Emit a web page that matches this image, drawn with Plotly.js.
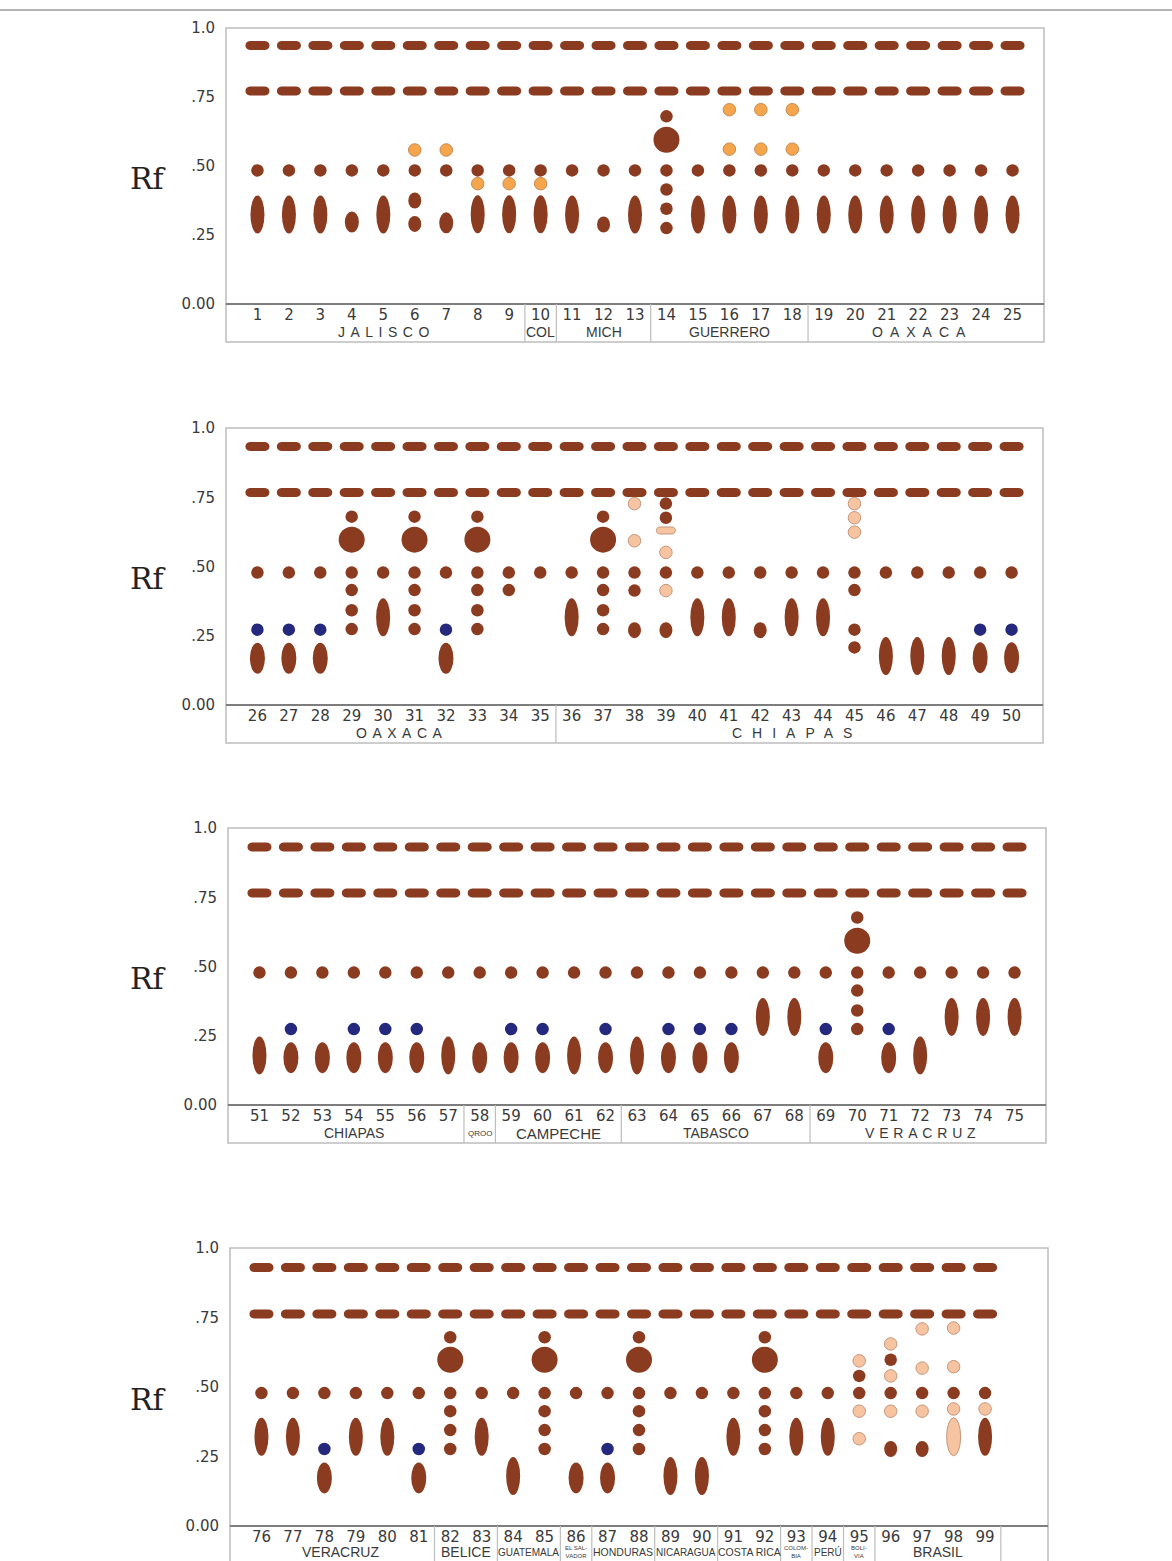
<!DOCTYPE html>
<html><head><meta charset="utf-8">
<script src="https://cdn.plot.ly/plotly-3.0.1.min.js"></script>
<style>html,body{margin:0;padding:0;background:#fff}</style>
</head><body><div id="chart" style="width:1172px;height:1561px"></div>
<script>
// ---------------- DATA ----------------
// lanes shown in each panel
const panel1Lanes = [1,2,3,4,5,6,7,8,9,10,11,12,13,14,15,16,17,18,19,20,21,22,23,24,25];
const panel2Lanes = [26,27,28,29,30,31,32,33,34,35,36,37,38,39,40,41,42,43,44,45,46,47,48,49,50];
const panel3Lanes = [51,52,53,54,55,56,57,58,59,60,61,62,63,64,65,66,67,68,69,70,71,72,73,74,75];
const panel4Lanes = [76,77,78,79,80,81,82,83,84,85,86,87,88,89,90,91,92,93,94,95,96,97,98,99];

// Rf of the two dashed bands near the top of each panel
const panel1DashRf = [0.937, 0.772];
const panel2DashRf = [0.933, 0.767];
const panel3DashRf = [0.931, 0.765];
const panel4DashRf = [0.930, 0.763];

// spots: [lane, Rf, kind, tone]
const panel1Spots = [
 [1,.484,'dot','brown'],[1,.324,'tall','brown'],
 [2,.484,'dot','brown'],[2,.324,'tall','brown'],
 [3,.484,'dot','brown'],[3,.324,'tall','brown'],
 [4,.484,'dot','brown'],[4,.297,'short','brown'],
 [5,.484,'dot','brown'],[5,.324,'tall','brown'],
 [6,.558,'dot','orange'],[6,.484,'dot','brown'],[6,.375,'oval','brown'],[6,.290,'oval','brown'],
 [7,.558,'dot','orange'],[7,.484,'dot','brown'],[7,.294,'short','brown'],
 [8,.484,'dot','brown'],[8,.436,'dot','orange'],[8,.325,'tall','brown'],
 [9,.484,'dot','brown'],[9,.436,'dot','orange'],[9,.325,'tall','brown'],
 [10,.484,'dot','brown'],[10,.436,'dot','orange'],[10,.325,'tall','brown'],
 [11,.484,'dot','brown'],[11,.324,'tall','brown'],
 [12,.484,'dot','brown'],[12,.288,'oval','brown'],
 [13,.484,'dot','brown'],[13,.324,'tall','brown'],
 [14,.680,'dot','brown'],[14,.595,'big','brown'],[14,.484,'dot','brown'],[14,.415,'dot','brown'],[14,.345,'dot','brown'],[14,.275,'dot','brown'],
 [15,.484,'dot','brown'],[15,.324,'tall','brown'],
 [16,.704,'dot','orange'],[16,.561,'dot','orange'],[16,.484,'dot','brown'],[16,.324,'tall','brown'],
 [17,.704,'dot','orange'],[17,.561,'dot','orange'],[17,.484,'dot','brown'],[17,.324,'tall','brown'],
 [18,.704,'dot','orange'],[18,.561,'dot','orange'],[18,.484,'dot','brown'],[18,.324,'tall','brown'],
 [19,.484,'dot','brown'],[19,.324,'tall','brown'],
 [20,.484,'dot','brown'],[20,.324,'tall','brown'],
 [21,.484,'dot','brown'],[21,.324,'tall','brown'],
 [22,.484,'dot','brown'],[22,.324,'tall','brown'],
 [23,.484,'dot','brown'],[23,.324,'tall','brown'],
 [24,.484,'dot','brown'],[24,.324,'tall','brown'],
 [25,.484,'dot','brown'],[25,.324,'tall','brown']
];
const panel2Spots = [
 [26,.478,'dot','brown'],[26,.272,'dot','blue'],[26,.169,'med','brown'],
 [27,.478,'dot','brown'],[27,.272,'dot','blue'],[27,.169,'med','brown'],
 [28,.478,'dot','brown'],[28,.272,'dot','blue'],[28,.169,'med','brown'],
 [29,.680,'dot','brown'],[29,.597,'big','brown'],[29,.478,'dot','brown'],[29,.415,'dot','brown'],[29,.342,'dot','brown'],[29,.274,'dot','brown'],
 [30,.478,'dot','brown'],[30,.317,'tall','brown'],
 [31,.680,'dot','brown'],[31,.597,'big','brown'],[31,.478,'dot','brown'],[31,.415,'dot','brown'],[31,.342,'dot','brown'],[31,.274,'dot','brown'],
 [32,.478,'dot','brown'],[32,.272,'dot','blue'],[32,.169,'med','brown'],
 [33,.680,'dot','brown'],[33,.597,'big','brown'],[33,.478,'dot','brown'],[33,.415,'dot','brown'],[33,.342,'dot','brown'],[33,.274,'dot','brown'],
 [34,.478,'dot','brown'],[34,.415,'dot','brown'],
 [35,.478,'dot','brown'],
 [36,.478,'dot','brown'],[36,.317,'tall','brown'],
 [37,.680,'dot','brown'],[37,.597,'big','brown'],[37,.478,'dot','brown'],[37,.415,'dot','brown'],[37,.342,'dot','brown'],[37,.274,'dot','brown'],
 [38,.727,'dot','peach'],[38,.593,'dot','peach'],[38,.478,'dot','brown'],[38,.413,'dot','brown'],[38,.270,'oval','brown'],
 [39,.727,'dot','brown'],[39,.676,'dot','brown'],[39,.630,'bar','peach'],[39,.551,'dot','peach'],[39,.478,'dot','brown'],[39,.413,'dot','peach'],[39,.270,'oval','brown'],
 [40,.478,'dot','brown'],[40,.317,'tall','brown'],
 [41,.478,'dot','brown'],[41,.317,'tall','brown'],
 [42,.478,'dot','brown'],[42,.270,'oval','brown'],
 [43,.478,'dot','brown'],[43,.317,'tall','brown'],
 [44,.478,'dot','brown'],[44,.317,'tall','brown'],
 [45,.727,'dot','peach'],[45,.676,'dot','peach'],[45,.624,'dot','peach'],[45,.478,'dot','brown'],[45,.415,'dot','brown'],[45,.272,'dot','brown'],[45,.208,'dot','brown'],
 [46,.478,'dot','brown'],[46,.177,'tall','brown'],
 [47,.478,'dot','brown'],[47,.177,'tall','brown'],
 [48,.478,'dot','brown'],[48,.177,'tall','brown'],
 [49,.478,'dot','brown'],[49,.272,'dot','blue'],[49,.171,'med','brown'],
 [50,.478,'dot','brown'],[50,.272,'dot','blue'],[50,.171,'med','brown']
];
const panel3Spots = [
 [51,.478,'dot','brown'],[51,.179,'tall','brown'],
 [52,.478,'dot','brown'],[52,.274,'dot','blue'],[52,.171,'med','brown'],
 [53,.478,'dot','brown'],[53,.171,'med','brown'],
 [54,.478,'dot','brown'],[54,.274,'dot','blue'],[54,.171,'med','brown'],
 [55,.478,'dot','brown'],[55,.274,'dot','blue'],[55,.171,'med','brown'],
 [56,.478,'dot','brown'],[56,.274,'dot','blue'],[56,.171,'med','brown'],
 [57,.478,'dot','brown'],[57,.179,'tall','brown'],
 [58,.478,'dot','brown'],[58,.171,'med','brown'],
 [59,.478,'dot','brown'],[59,.274,'dot','blue'],[59,.171,'med','brown'],
 [60,.478,'dot','brown'],[60,.274,'dot','blue'],[60,.171,'med','brown'],
 [61,.478,'dot','brown'],[61,.179,'tall','brown'],
 [62,.478,'dot','brown'],[62,.274,'dot','blue'],[62,.171,'med','brown'],
 [63,.478,'dot','brown'],[63,.179,'tall','brown'],
 [64,.478,'dot','brown'],[64,.274,'dot','blue'],[64,.171,'med','brown'],
 [65,.478,'dot','brown'],[65,.274,'dot','blue'],[65,.171,'med','brown'],
 [66,.478,'dot','brown'],[66,.274,'dot','blue'],[66,.171,'med','brown'],
 [67,.478,'dot','brown'],[67,.318,'tall','brown'],
 [68,.478,'dot','brown'],[68,.318,'tall','brown'],
 [69,.478,'dot','brown'],[69,.274,'dot','blue'],[69,.171,'med','brown'],
 [70,.677,'dot','brown'],[70,.593,'big','brown'],[70,.478,'dot','brown'],[70,.413,'dot','brown'],[70,.341,'dot','brown'],[70,.274,'dot','brown'],
 [71,.478,'dot','brown'],[71,.274,'dot','blue'],[71,.171,'med','brown'],
 [72,.478,'dot','brown'],[72,.179,'tall','brown'],
 [73,.478,'dot','brown'],[73,.318,'tall','brown'],
 [74,.478,'dot','brown'],[74,.318,'tall','brown'],
 [75,.478,'dot','brown'],[75,.318,'tall','brown']
];
const panel4Spots = [
 [76,.478,'dot','brown'],[76,.321,'tall','brown'],
 [77,.478,'dot','brown'],[77,.321,'tall','brown'],
 [78,.478,'dot','brown'],[78,.277,'dot','blue'],[78,.173,'med','brown'],
 [79,.478,'dot','brown'],[79,.321,'tall','brown'],
 [80,.478,'dot','brown'],[80,.321,'tall','brown'],
 [81,.478,'dot','brown'],[81,.277,'dot','blue'],[81,.173,'med','brown'],
 [82,.679,'dot','brown'],[82,.598,'big','brown'],[82,.478,'dot','brown'],[82,.413,'dot','brown'],[82,.345,'dot','brown'],[82,.277,'dot','brown'],
 [83,.478,'dot','brown'],[83,.321,'tall','brown'],
 [84,.478,'dot','brown'],[84,.180,'tall','brown'],
 [85,.679,'dot','brown'],[85,.598,'big','brown'],[85,.478,'dot','brown'],[85,.413,'dot','brown'],[85,.345,'dot','brown'],[85,.277,'dot','brown'],
 [86,.478,'dot','brown'],[86,.173,'med','brown'],
 [87,.478,'dot','brown'],[87,.277,'dot','blue'],[87,.173,'med','brown'],
 [88,.679,'dot','brown'],[88,.598,'big','brown'],[88,.478,'dot','brown'],[88,.413,'dot','brown'],[88,.345,'dot','brown'],[88,.277,'dot','brown'],
 [89,.478,'dot','brown'],[89,.180,'tall','brown'],
 [90,.478,'dot','brown'],[90,.180,'tall','brown'],
 [91,.478,'dot','brown'],[91,.321,'tall','brown'],
 [92,.679,'dot','brown'],[92,.598,'big','brown'],[92,.478,'dot','brown'],[92,.413,'dot','brown'],[92,.345,'dot','brown'],[92,.277,'dot','brown'],
 [93,.478,'dot','brown'],[93,.321,'tall','brown'],
 [94,.478,'dot','brown'],[94,.321,'tall','brown'],
 [95,.594,'dot','peach'],[95,.540,'dot','brown'],[95,.478,'dot','brown'],[95,.413,'dot','peach'],[95,.314,'dot','peach'],
 [96,.655,'dot','peach'],[96,.598,'dot','brown'],[96,.540,'dot','peach'],[96,.478,'dot','brown'],[96,.413,'dot','peach'],[96,.277,'oval','brown'],
 [97,.709,'dot','peach'],[97,.568,'dot','peach'],[97,.478,'dot','brown'],[97,.413,'dot','peach'],[97,.277,'oval','brown'],
 [98,.712,'dot','peach'],[98,.573,'dot','peach'],[98,.478,'dot','brown'],[98,.421,'dot','peach'],[98,.321,'tall','peach'],
 [99,.478,'dot','brown'],[99,.421,'dot','peach'],[99,.321,'tall','brown']
];

// region groups under each panel
const panel1GroupNames = ['JALISCO','COL','MICH','GUERRERO','OAXACA'];
const panel1GroupStart = [1,10,11,14,19];
const panel1GroupEnd   = [9,10,13,18,25];
const panel2GroupNames = ['OAXACA','CHIAPAS'];
const panel2GroupStart = [26,36];
const panel2GroupEnd   = [35,50];
const panel3GroupNames = ['CHIAPAS','QROO','CAMPECHE','TABASCO','VERACRUZ'];
const panel3GroupStart = [51,58,59,63,69];
const panel3GroupEnd   = [57,58,62,68,75];
const panel4GroupNames = ['VERACRUZ','BELICE','GUATEMALA','EL SAL-<br>VADOR','HONDURAS','NICARAGUA','COSTA RICA','COLOM-<br>BIA','PERÚ','BOLI-<br>VIA','BRASIL',''];
const panel4GroupStart = [76,82,84,86,87,89,91,93,94,95,96,100];
const panel4GroupEnd   = [81,83,85,86,88,90,92,93,94,95,99,100];

const rfTickVals = [0, 0.25, 0.5, 0.75, 1.0];
const rfTickText = ['0.00', '.25', '.50', '.75', '1.0'];

// ---------------- STYLE ----------------
const W = 1172, H = 1561;
const TONE = {
  brown:  {fill:'#8a3b20', line:'#8a3b20', lw:0},
  orange: {fill:'#f5a64d', line:'#c98a52', lw:1},
  peach:  {fill:'#f7c4a2', line:'#c4967c', lw:1},
  blue:   {fill:'#25297d', line:'#25297d', lw:0}
};
const KIND = {
  dot:   {w:12.5, h:12.5},
  big:   {w:26, h:26},
  tall:  {w:14, h:38},
  med:   {w:15, h:31},
  short: {w:14, h:21},
  oval:  {w:13, h:16},
  bar:   {w:19, h:7, round:true},
  dash:  {w:24, h:9, round:true}
};
// label size / letter spacing / vertical nudge per "panel|name"
const LABEL_STYLE = {
  '1|JALISCO':{ls:5.5}, '1|OAXACA':{ls:7}, '2|OAXACA':{ls:5.5}, '2|CHIAPAS':{ls:10}, '3|VERACRUZ':{ls:4.8},
  '3|QROO':{size:8}, '3|CAMPECHE':{size:15},
  '4|EL SAL-<br>VADOR':{size:6}, '4|COLOM-<br>BIA':{size:6}, '4|BOLI-<br>VIA':{size:6},
  '4|PERÚ':{size:10}, '4|GUATEMALA':{size:10}, '4|HONDURAS':{size:10.5}, '4|NICARAGUA':{size:10}, '4|COSTA RICA':{size:10.5}
};

const panels = [
  {lanes:panel1Lanes, spots:panel1Spots, dash:panel1DashRf, gN:panel1GroupNames, gS:panel1GroupStart, gE:panel1GroupEnd, left:226, right:1044, top:28, axis:304, lab:28},
  {lanes:panel2Lanes, spots:panel2Spots, dash:panel2DashRf, gN:panel2GroupNames, gS:panel2GroupStart, gE:panel2GroupEnd, left:226, right:1043, top:428, axis:705, lab:28},
  {lanes:panel3Lanes, spots:panel3Spots, dash:panel3DashRf, gN:panel3GroupNames, gS:panel3GroupStart, gE:panel3GroupEnd, left:228, right:1046, top:828, axis:1105, lab:28},
  {lanes:panel4Lanes, spots:panel4Spots, dash:panel4DashRf, gN:panel4GroupNames, gS:panel4GroupStart, gE:panel4GroupEnd, left:230, right:1048, top:1248, axis:1526, lab:26}
];

function roundPath(w, h) {
  const r = h/2, a = w/2 - r, k = r*4/3;
  return `M ${-a},${-r} L ${a},${-r} C ${a+k},${-r} ${a+k},${r} ${a},${r} L ${-a},${r} C ${-a-k},${r} ${-a-k},${-r} ${-a},${-r} Z`;
}
function spotShape(xa, ya, lane, rf, kind, tone) {
  const s = KIND[kind], c = TONE[tone];
  const base = {xref:xa, yref:ya, xsizemode:'pixel', ysizemode:'pixel', xanchor:lane, yanchor:rf,
    fillcolor:c.fill, line:{color:c.line, width:c.lw}, layer:'above'};
  if (s.round) return Object.assign(base, {type:'path', path: roundPath(s.w, s.h)});
  return Object.assign(base, {type:'circle', x0:-s.w/2, x1:s.w/2, y0:-s.h/2, y1:s.h/2});
}

const py = px => 1 - px / H;
const FONT = 'DejaVu Sans, sans-serif';
const data = [], shapes = [], annotations = [];
const layout = {width:W, height:H, margin:{l:0,r:0,t:0,b:0}, paper_bgcolor:'#fff', plot_bgcolor:'#fff',
  showlegend:false, font:{family:FONT, color:'#333'}};

// top rule
shapes.push({type:'line', xref:'paper', yref:'paper', x0:0, x1:1, y0:py(10), y1:py(10), line:{color:'#9a9a9a', width:1.5}});

panels.forEach((p, i) => {
  const n = i + 1, xa = 'x' + (i ? n : ''), ya = 'y' + (i ? n : '');
  const first = p.lanes[0];
  layout['xaxis' + (i ? n : '')] = {domain:[p.left/W, p.right/W], range:[first-1, first+25], anchor:ya,
    tickvals:p.lanes, ticktext:p.lanes.map(String), ticks:'', showgrid:false, zeroline:false, showline:false,
    tickfont:{family:FONT, size:15, color:'#3a3a3a'}, ticklabelstandoff:0, fixedrange:true};
  layout['yaxis' + (i ? n : '')] = {domain:[py(p.axis), py(p.top)], range:[0, 1], anchor:xa,
    tickvals:rfTickVals, ticktext:rfTickText, ticks:'', showgrid:false, zeroline:false, showline:false,
    tickfont:{family:FONT, size:15, color:'#3a3a3a'}, ticklabelstandoff:10, fixedrange:true};
  data.push({type:'scatter', x:[], y:[], xaxis:xa, yaxis:ya, hoverinfo:'skip'});

  // frames
  shapes.push({type:'rect', xref:'paper', yref:'paper', x0:p.left/W, x1:p.right/W, y0:py(p.axis), y1:py(p.top),
    line:{color:'#bdbdbd', width:1.5}, layer:'below'});
  shapes.push({type:'rect', xref:'paper', yref:'paper', x0:p.left/W, x1:p.right/W, y0:py(p.axis+38), y1:py(p.axis),
    line:{color:'#bdbdbd', width:1.5}, layer:'below'});
  shapes.push({type:'line', xref:'paper', yref:'paper', x0:p.left/W, x1:p.right/W, y0:py(p.axis), y1:py(p.axis),
    line:{color:'#7d7d7d', width:2}});

  // group dividers and names
  p.gN.forEach((name, g) => {
    if (g > 0) shapes.push({type:'line', xref:xa, yref:'paper', x0:p.gS[g]-0.5, x1:p.gS[g]-0.5,
      y0:py(p.axis+38), y1:py(p.axis), line:{color:'#bdbdbd', width:1.2}});
    if (!name) return;
    const st = LABEL_STYLE[n + '|' + name] || {};
    const txt = st.ls ? `<span style="letter-spacing:${st.ls}px">${name}</span>` : name;
    annotations.push({xref:xa, yref:'paper', x:(p.gS[g]+p.gE[g])/2, y:py(p.axis+p.lab),
      text:txt, showarrow:false, xanchor:'center', yanchor:'middle', xshift:(st.ls||0)/2,
      font:{family:'Liberation Sans, sans-serif', size:st.size||14, color:'#3a3a3a'}});
  });

  // Rf label
  annotations.push({xref:'paper', yref:ya, x:148/W, y:0.455, text:'Rf', showarrow:false,
    xanchor:'center', yanchor:'middle', font:{family:'DejaVu Serif, serif', size:30, color:'#222'}});

  // dashes
  p.lanes.forEach(l => p.dash.forEach(rf => shapes.push(spotShape(xa, ya, l, rf, 'dash', 'brown'))));
  // spots
  p.spots.forEach(s => shapes.push(spotShape(xa, ya, s[0], s[1], s[2], s[3])));
});

layout.shapes = shapes;
layout.annotations = annotations;
Plotly.newPlot('chart', data, layout, {staticPlot:true});
</script></body></html>
